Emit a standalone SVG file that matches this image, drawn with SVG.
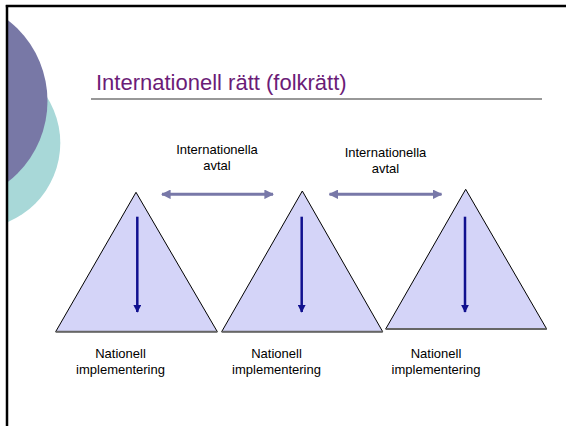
<svg xmlns="http://www.w3.org/2000/svg" width="566" height="426" viewBox="0 0 566 426">
  <defs>
    <clipPath id="slide">
      <rect x="8" y="7" width="558" height="419"/>
    </clipPath>
    <marker id="hArrow" viewBox="0 0 10 10" refX="9" refY="5" markerWidth="3.2" markerHeight="3.2" orient="auto-start-reverse" markerUnits="strokeWidth">
      <path d="M0,0 L10,5 L0,10 z" fill="#7878a8"/>
    </marker>
    <marker id="vArrow" viewBox="0 0 10 10" refX="9" refY="5" markerWidth="3.2" markerHeight="3.2" orient="auto" markerUnits="strokeWidth">
      <path d="M0,0 L10,5 L0,10 z" fill="#10108f"/>
    </marker>
  </defs>
  <style>
    .tri { fill: #d4d4f8; stroke: #000; stroke-width: 1; }
    .base { stroke: #666; stroke-width: 2; }
    .label { font-family: "Liberation Sans", Arial, sans-serif; font-size: 13px; fill: #000; text-anchor: middle; }
    .hlink { stroke: #7878a8; stroke-width: 3; fill: none; marker-start: url(#hArrow); marker-end: url(#hArrow); }
    .down { stroke: #10108f; stroke-width: 2.5; fill: none; marker-end: url(#vArrow); }
  </style>
  <rect width="566" height="426" fill="#fff"/>
  <g id="decor" clip-path="url(#slide)">
    <circle cx="-25.5" cy="143" r="85.8" fill="#a8d8d8"/>
    <circle cx="-55" cy="101" r="102.5" fill="#7878a6"/>
  </g>
  <g id="frame" stroke="#000" stroke-width="2.5" fill="none">
    <line x1="5.8" y1="6" x2="566" y2="6"/>
    <line x1="7" y1="5" x2="7" y2="426"/>
  </g>
  <g id="title">
    <text x="96" y="89.5" font-family="Liberation Sans, Arial, sans-serif" font-size="22" fill="#6b1c77">Internationell rätt (folkrätt)</text>
    <line x1="91" y1="99" x2="542" y2="99" stroke="#333" stroke-width="1.2"/>
  </g>
  <g id="state1">
    <polygon class="tri" points="136,192.3 55.7,331.7 217.3,331.7"/>
    <line class="base" x1="55.7" y1="331.7" x2="217.3" y2="331.7"/>
    <text class="label" x="120.5" y="358.3">Nationell</text>
    <text class="label" x="120.5" y="374">implementering</text>
  </g>
  <g id="state2">
    <polygon class="tri" points="302.3,191 221.7,331.7 382.7,331.7"/>
    <line class="base" x1="221.7" y1="331.7" x2="382.7" y2="331.7"/>
    <text class="label" x="276.5" y="358.3">Nationell</text>
    <text class="label" x="276.5" y="374">implementering</text>
  </g>
  <g id="state3">
    <polygon class="tri" points="465.7,189.3 385.7,329 546.7,329"/>
    <line class="base" x1="385.7" y1="329" x2="546.7" y2="329"/>
    <text class="label" x="436" y="358.3">Nationell</text>
    <text class="label" x="436" y="374">implementering</text>
  </g>
  <g id="treaty1">
    <text class="label" x="217" y="154" font-size="13.8">Internationella</text>
    <text class="label" x="217" y="169.5" font-size="13.8">avtal</text>
  </g>
  <g id="treaty2">
    <text class="label" x="385.5" y="157.3" font-size="13.8">Internationella</text>
    <text class="label" x="385.5" y="173" font-size="13.8">avtal</text>
  </g>
  <g id="connectors">
    <line class="hlink" x1="162" y1="194.3" x2="273" y2="194.3"/>
    <line class="hlink" x1="329.5" y1="194.3" x2="441.5" y2="194.3"/>
    <line class="down" x1="137.3" y1="216.7" x2="137.3" y2="312"/>
    <line class="down" x1="301.7" y1="216.7" x2="301.7" y2="312"/>
    <line class="down" x1="465" y1="216.7" x2="465" y2="312"/>
  </g>
</svg>
